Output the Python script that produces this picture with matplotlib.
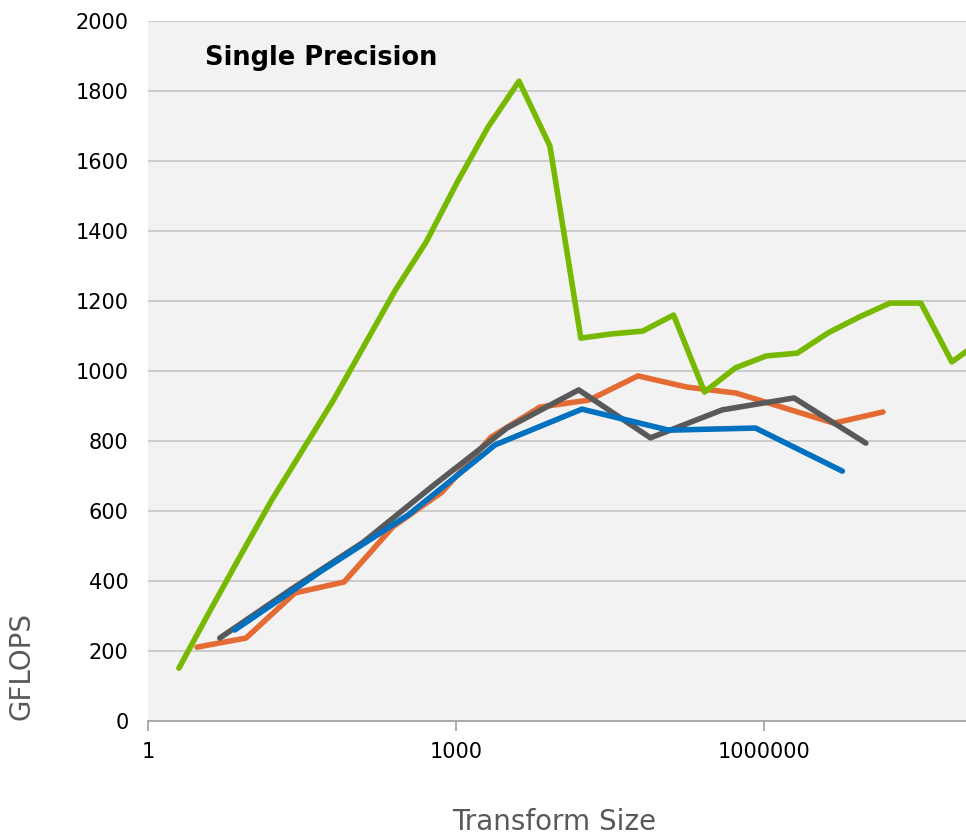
import matplotlib
matplotlib.use("Agg")
import matplotlib.pyplot as plt
from matplotlib.ticker import FixedLocator, FixedFormatter, NullLocator

# transform sizes are powers of 2, 3, 5 and 7
green_x = [2 ** k for k in range(1, 28)]
green_y = [151, 314, 474, 631, 774, 917, 1074, 1231, 1369, 1539, 1697, 1828, 1643,
           1094, 1106, 1114, 1160, 940, 1009, 1043, 1051, 1109, 1154, 1194, 1194, 1026, 1089]

orange_x = [3 ** k for k in range(1, 16)]
orange_y = [211, 237, 366, 397, 555, 654, 811, 897, 917, 986, 954, 937, 894, 851, 883]

gray_x = [5 ** k for k in range(1, 11)]
gray_y = [237, 377, 511, 677, 837, 946, 809, 889, 923, 794]

blue_x = [7 ** k for k in range(1, 9)]
blue_y = [260, 429, 589, 789, 891, 831, 837, 714]

x_ticks = [1, 1000, 1000000]
x_tick_labels = ["1", "1000", "1000000"]
y_ticks = list(range(0, 2001, 200))

W, H = 966, 836
fig = plt.figure(figsize=(W / 100, H / 100), dpi=100)
ax = fig.add_axes([148 / W, (H - 721) / H, (966 - 148) / W, 700 / H])
ax.set_facecolor("#F2F2F2")

lw = 4
ax.plot(orange_x, orange_y, color="#E46C34", lw=lw, solid_capstyle="round", zorder=3)
ax.plot(gray_x, gray_y, color="#595959", lw=lw, solid_capstyle="round", zorder=4)
ax.plot(blue_x, blue_y, color="#0070C0", lw=lw, solid_capstyle="round", zorder=5)
ax.plot(green_x, green_y, color="#76B900", lw=lw, solid_capstyle="round", zorder=6)

ax.set_xscale("log")
ax.set_xlim(1, 10 ** ((966 - 148) / 102.7))
ax.set_ylim(0, 2000)

ax.xaxis.set_major_locator(FixedLocator(x_ticks))
ax.xaxis.set_major_formatter(FixedFormatter(x_tick_labels))
ax.xaxis.set_minor_locator(NullLocator())
ax.set_yticks(y_ticks)
ax.yaxis.grid(True, color="#C8C8C8", lw=1.3, zorder=1)
ax.set_axisbelow(True)

for side in ["top", "right", "left"]:
    ax.spines[side].set_visible(False)
ax.spines["bottom"].set_color("#A6A6A6")
ax.spines["bottom"].set_linewidth(1.3)
ax.tick_params(axis="x", length=7, width=1.3, color="#A6A6A6", direction="out",
               labelsize=15, pad=8, labelcolor="black")
ax.tick_params(axis="y", length=0, labelsize=15, pad=14, labelcolor="black")

ax.text(57 / 818, 1 - 37 / 700, "Single Precision", transform=ax.transAxes, fontsize=18.5,
        fontweight="bold", ha="left", va="center")

fig.text(554 / W, 1 - 822 / H, "Transform Size", fontsize=20, color="#595959",
         ha="center", va="center")
fig.text(22 / W, 1 - 666 / H, "GFLOPS", fontsize=20, color="#595959",
         ha="center", va="center", rotation=90)

fig.savefig("out.png", dpi=100)
